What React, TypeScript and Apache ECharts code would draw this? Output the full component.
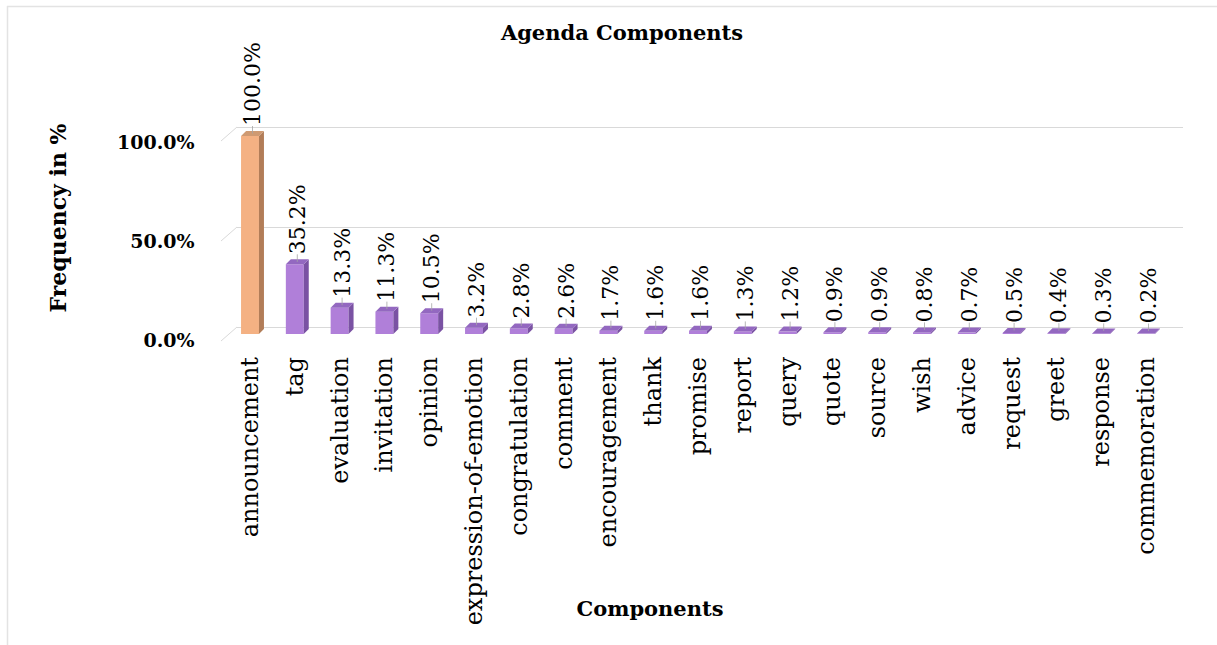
import React, { useEffect, useRef } from "react";
import * as echarts from "echarts";

const categories = [
  "announcement", "tag", "evaluation", "invitation", "opinion",
  "expression-of-emotion", "congratulation", "comment", "encouragement", "thank",
  "promise", "report", "query", "quote", "source", "wish", "advice", "request",
  "greet", "response", "commemoration",
];
const values = [100.0, 35.2, 13.3, 11.3, 10.5, 3.2, 2.8, 2.6, 1.7, 1.6, 1.6, 1.3, 1.2, 0.9, 0.9, 0.8, 0.7, 0.5, 0.4, 0.3, 0.2];
const yTicks = [0, 50, 100];

const FONT = "'DejaVu Serif', serif";

export default function App() {
  const ref = useRef<HTMLDivElement>(null);
  useEffect(() => {
    document.body.style.margin = "0";
    const chart = echarts.init(ref.current!, null, { renderer: "svg" });
    const depth = 5;
    chart.setOption({
      animation: false,
      backgroundColor: "#ffffff",
      title: {
        text: "Agenda Components",
        left: 617,
        textAlign: "center",
        top: 17,
        textStyle: { fontFamily: FONT, fontSize: 21, fontWeight: "bold", color: "#000" },
      },
      graphic: [
        { type: "line", shape: { x1: 7, y1: 6.5, x2: 1217, y2: 6.5 }, style: { stroke: "#e3e3e3", lineWidth: 1.5 } },
        { type: "line", shape: { x1: 7.5, y1: 6, x2: 7.5, y2: 645 }, style: { stroke: "#e3e3e3", lineWidth: 1.5 } },
        {
          type: "text",
          x: 58,
          y: 218,
          rotation: Math.PI / 2,
          style: {
            text: "Frequency in %",
            align: "center",
            verticalAlign: "middle",
            fontFamily: FONT,
            fontSize: 22,
            fontWeight: "bold",
            fill: "#000",
          },
        },
        {
          type: "text",
          x: 650,
          y: 608,
          style: {
            text: "Components",
            align: "center",
            verticalAlign: "middle",
            fontFamily: FONT,
            fontSize: 21,
            fontWeight: "bold",
            fill: "#000",
          },
        },
      ],
      grid: [
        { left: 227.6, width: 940.8, top: 136, height: 198, containLabel: false, outerBoundsMode: "none" },
        { left: 237, width: 946, top: 127, height: 200, containLabel: false, outerBoundsMode: "none" },
        { left: 227.6, width: 940.8, top: 142, height: 198, containLabel: false, outerBoundsMode: "none" },
      ],
      xAxis: [
        {
          type: "category",
          gridIndex: 0,
          data: categories,
          axisLine: { show: false },
          axisTick: { show: false },
          axisLabel: {
            rotate: 90,
            interval: 0,
            margin: 23,
            fontFamily: FONT,
            fontSize: 24,
            color: "#000",
          },
        },
        { type: "category", gridIndex: 1, data: categories, show: false },
        { type: "category", gridIndex: 2, data: categories, show: false },
      ],
      yAxis: [
        {
          type: "value",
          gridIndex: 0,
          min: 0,
          max: 100,
          interval: 50,
          axisLine: { show: false },
          axisTick: { show: false },
          axisLabel: { show: false },
          splitLine: { show: false },
        },
        {
          type: "value",
          gridIndex: 1,
          min: 0,
          max: 100,
          interval: 50,
          axisLine: { show: false },
          axisTick: { show: false },
          axisLabel: { show: false },
          splitLine: { show: true, lineStyle: { color: "#d9d9d9", width: 1 } },
        },
        {
          type: "value",
          gridIndex: 2,
          min: 0,
          max: 100,
          interval: 50,
          axisLine: { show: false },
          axisTick: { show: false },
          splitLine: { show: false },
          axisLabel: {
            formatter: (v: number) => v.toFixed(1) + "%",
            margin: 33,
            fontFamily: FONT,
            fontSize: 19,
            fontWeight: "bold",
            color: "#000",
          },
        },
      ],
      series: [
        {
          type: "custom",
          xAxisIndex: 1,
          yAxisIndex: 1,
          silent: true,
          data: yTicks.map((t) => [0, t]),
          encode: { x: 0, y: 1 },
          renderItem: (params: any, api: any) => {
            const p = api.coord([0, api.value(1)]);
            const left = params.coordSys.x;
            return {
              type: "line",
              shape: { x1: left - 16, y1: p[1] + 14, x2: left, y2: p[1] },
              style: { stroke: "#d9d9d9", lineWidth: 1 },
            };
          },
        },
        {
          type: "custom",
          xAxisIndex: 0,
          yAxisIndex: 0,
          data: values.map((v, i) => [i, v]),
          encode: { x: 0, y: 1 },
          clip: false,
          renderItem: (params: any, api: any) => {
            const i = api.value(0);
            const v = api.value(1);
            const base = api.coord([i, 0]);
            const top = api.coord([i, v]);
            const bw = api.size([1, 0])[0] * 0.4;
            const cx = top[0];
            const x0 = cx - bw / 2;
            const x1 = cx + bw / 2;
            const y0 = base[1];
            const y1 = top[1];
            const isFirst = params.dataIndex === 0;
            const front = isFirst ? "#F4B183" : "#B07FD9";
            const side = isFirst ? "#B27D58" : "#7A52A3";
            const topc = isFirst ? "#CF9A72" : "#9368C0";
            const d = depth;
            return {
              type: "group",
              children: [
                { type: "rect", shape: { x: x0, y: y1, width: bw, height: y0 - y1 }, style: { fill: front } },
                {
                  type: "polygon",
                  shape: { points: [[x1, y1], [x1 + d, y1 - d], [x1 + d, y0 - d], [x1, y0]] },
                  style: { fill: side },
                },
                {
                  type: "polygon",
                  shape: { points: [[x0, y1], [x0 + d, y1 - d], [x1 + d, y1 - d], [x1, y1]] },
                  style: { fill: topc },
                },
                {
                  type: "line",
                  shape: { x1: cx + 2.5, y1: y1 - 2.5, x2: cx + 2.5, y2: y1 - 10 },
                  style: { stroke: "#a6a6a6", lineWidth: 0.8 },
                },
                {
                  type: "text",
                  x: cx + 2.5,
                  y: y1 - 10,
                  rotation: Math.PI / 2,
                  style: {
                    text: v.toFixed(1) + "%",
                    align: "left",
                    verticalAlign: "middle",
                    fontFamily: FONT,
                    fontSize: 22,
                    fill: "#000",
                  },
                },
              ],
            };
          },
        },
      ],
    });
    return () => chart.dispose();
  }, []);
  return <div ref={ref} style={{ width: 1217, height: 645 }} />;
}
